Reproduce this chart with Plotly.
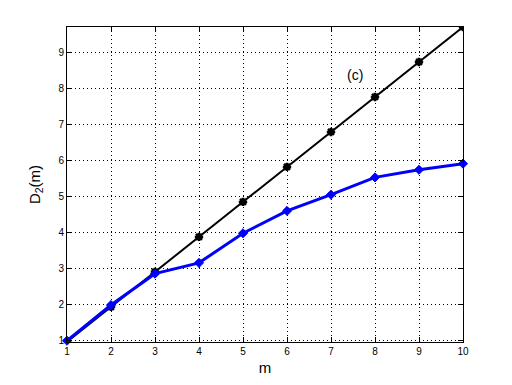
import plotly.graph_objects as go

m = [1, 2, 3, 4, 5, 6, 7, 8, 9, 10]
black_vals = [0.97, 1.94, 2.91, 3.88, 4.85, 5.82, 6.79, 7.76, 8.73, 9.70]
blue_vals = [1.0, 1.99, 2.86, 3.16, 3.98, 4.60, 5.05, 5.53, 5.74, 5.91]
x_ticks = [1, 2, 3, 4, 5, 6, 7, 8, 9, 10]
y_ticks = [1, 2, 3, 4, 5, 6, 7, 8, 9]

FONT = "Liberation Sans, Arial, sans-serif"

fig = go.Figure()
fig.add_trace(go.Scatter(
    x=m, y=black_vals, mode="lines+markers",
    line=dict(color="black", width=2),
    marker=dict(symbol="asterisk-open", size=7, color="black",
                line=dict(color="black", width=2.5)),
    showlegend=False,
))
fig.add_trace(go.Scatter(
    x=m, y=blue_vals, mode="lines+markers",
    line=dict(color="#0000ff", width=3),
    marker=dict(symbol="diamond", size=7, color="#0000ff",
                line=dict(color="#0000ff", width=1)),
    showlegend=False, cliponaxis=False,
))

fig.add_annotation(x=7.54, y=8.38, text="(c)", showarrow=False,
                   font=dict(family=FONT, size=14, color="black"))

axis_common = dict(
    showline=True, linecolor="black", linewidth=1, mirror="ticks",
    ticks="inside", ticklen=5, tickcolor="black", tickwidth=1,
    showgrid=True, gridcolor="black", gridwidth=1, griddash="1px,3px",
    zeroline=False, tickfont=dict(family=FONT, size=10, color="black"),
)

fig.update_xaxes(range=[1, 10], tickvals=x_ticks,
                 title=dict(text="m", font=dict(family=FONT, size=15, color="black"), standoff=6),
                 **axis_common)
fig.update_yaxes(range=[0.965, 9.7], tickvals=y_ticks,
                 title=dict(text="D<sub>2</sub>(m)", font=dict(family=FONT, size=15, color="black"), standoff=14),
                 **axis_common)

fig.update_layout(
    width=504, height=377,
    margin=dict(l=59, r=49, t=19, b=43),
    plot_bgcolor="white", paper_bgcolor="white",
    font=dict(family=FONT, color="black"),
)

fig.write_html("out.html")
